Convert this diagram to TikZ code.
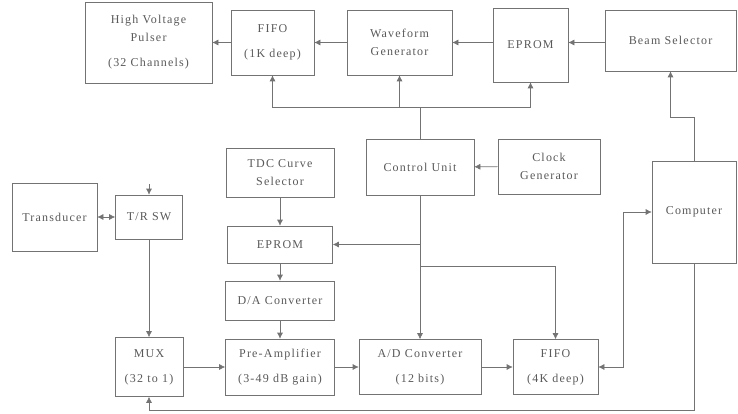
\documentclass[tikz,border=0pt]{standalone}
\usepackage{fontspec}
\setmainfont[LetterSpace=10]{Liberation Serif}
\usetikzlibrary{arrows.meta}

\begin{document}
\begin{tikzpicture}[x=1pt, y=-1pt, >={Latex[length=6pt,width=6pt]},
  every node/.style={draw=black!55, rectangle, align=center, inner sep=0pt,
    text=black!65, font=\fontsize{12}{18}\selectfont},
  every path/.style={draw=black!55, line width=0.6pt}]
  \useasboundingbox[draw=none] (0,0) rectangle (738,414);
  \node[minimum width=127pt, minimum height=81pt] (hvp) at (148.5,42.5) {High Voltage\\Pulser\\[7pt](32 Channels)};
  \node[minimum width=83pt, minimum height=65pt] (fifoa) at (272.5,42.5) {FIFO\\[7pt](1K deep)};
  \node[minimum width=105pt, minimum height=65pt] (wave) at (399.5,42.5) {Waveform\\Generator};
  \node[minimum width=75pt, minimum height=74pt] (epa) at (530.5,45) {EPROM};
  \node[minimum width=131pt, minimum height=61pt] (beam) at (670.5,40.5) {Beam Selector};
  \node[minimum width=85pt, minimum height=68pt] (trans) at (54.5,217) {Transducer};
  \node[minimum width=67pt, minimum height=44pt] (trsw) at (149,217) {T/R SW};
  \node[minimum width=108pt, minimum height=49pt] (tdc) at (280,172.5) {TDC Curve\\Selector};
  \node[minimum width=105pt, minimum height=37pt] (epb) at (280,244.5) {EPROM};
  \node[minimum width=109pt, minimum height=39pt] (dac) at (280,300.5) {D/A Converter};
  \node[minimum width=109pt, minimum height=56pt] (pre) at (280,367) {Pre-Amplifier\\[7pt](3-49 dB gain)};
  \node[minimum width=68pt, minimum height=59pt] (mux) at (149,367) {MUX\\[7pt](32 to 1)};
  \node[minimum width=122pt, minimum height=55pt] (adc) at (420,367) {A/D Converter\\[7pt](12 bits)};
  \node[minimum width=85pt, minimum height=55pt] (fifob) at (555.5,367) {FIFO\\[7pt](4K deep)};
  \node[minimum width=108pt, minimum height=56pt] (ctrl) at (420,167) {Control Unit};
  \node[minimum width=102pt, minimum height=55pt] (clk) at (549,166.5) {Clock\\Generator};
  \node[minimum width=84pt, minimum height=102pt] (comp) at (694,212) {Computer};
  \coordinate (bus) at (0,107);
  \coordinate (cb) at (0,117);
  \coordinate (fb) at (0,266);
  \coordinate (cf) at (623,0);
  \coordinate (cm) at (0,410);
  \coordinate (tin) at (149,184);
  \draw[->] (fifoa) -- (hvp);
  \draw[->] (wave) -- (fifoa);
  \draw[->] (epa.west |- wave) -- (wave);
  \draw[->] (beam.west |- wave) -- (epa.east |- wave);
  \draw[->] (ctrl.north) -- (ctrl.north |- bus) -| (fifoa.south);
  \draw[->] (ctrl.north |- bus) -| (wave.south);
  \draw[->] (ctrl.north |- bus) -| (epa.south);
  \draw[->] (comp.north) -- (comp.north |- cb) -| (beam.south);
  \draw[->] (clk) -- (ctrl);
  \draw[->] (ctrl.south) |- (epb.east);
  \draw[->] (ctrl) -- (adc);
  \draw[->] (ctrl.south |- fb) -| (fifob.north);
  \draw[->] (tdc) -- (epb);
  \draw[->] (epb) -- (dac);
  \draw[->] (dac) -- (pre);
  \draw[->] (mux) -- (pre);
  \draw[->] (pre) -- (adc);
  \draw[->] (adc) -- (fifob);
  \draw[<->] (fifob.east) -- (fifob.east -| cf) |- (comp.west);
  \draw[<->] (trans) -- (trsw);
  \draw[->] (trsw) -- (mux);
  \draw[->] (tin) -- (trsw.north);
  \draw[->] (comp.south) -- (comp.south |- cm) -| (mux.south);
\end{tikzpicture}
\end{document}
